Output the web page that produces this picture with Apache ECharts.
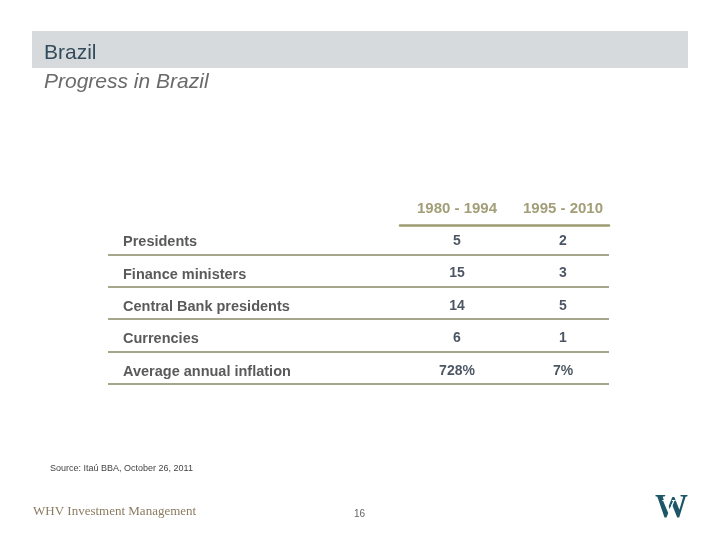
<!DOCTYPE html>
<html>
<head>
<meta charset="utf-8">
<script src="https://cdn.jsdelivr.net/npm/echarts@6/dist/echarts.min.js"></script>
<style>html,body{margin:0;padding:0;background:#fff;}#c{width:720px;height:540px;}</style>
</head>
<body>
<div id="c"></div>
<script>
const rows = ['Presidents', 'Finance ministers', 'Central Bank presidents', 'Currencies', 'Average annual inflation'];
const periods = ['1980 - 1994', '1995 - 2010'];
const values1980 = [5, 15, 14, 6, 728];
const values1995 = [2, 3, 5, 1, 7];
const units = ['', '', '', '', '%'];

const chart = echarts.init(document.getElementById('c'), null, {renderer: 'canvas'});
const LINE = '#a6a68c';
const OLIVE = '#a29e78';
const FONT = 'Liberation Sans, Arial, sans-serif';

function seriesFor(period, vals) {
  return {
    type: 'scatter', xAxisIndex: 1, yAxisIndex: 1, symbolSize: 0, silent: true,
    data: rows.map((r, i) => [period, r, vals[i]]),
    label: {
      show: true, position: 'inside', offset: [0, 3],
      formatter: p => p.value[2] + units[p.dataIndex],
      fontFamily: FONT, fontWeight: 'bold', fontSize: 14, color: '#1e2b3b'
    }
  };
}

chart.setOption({
  backgroundColor: '#ffffff',
  animation: false,
  graphic: [
    {type: 'rect', left: 32, top: 31, shape: {width: 656, height: 37}, style: {fill: '#d6dadc'}, silent: true},
    {type: 'text', left: 655, top: 492, style: {text: 'W', font: 'bold 33px Liberation Serif, serif', fill: '#1d5666'}},
    {type: 'text', left: 662, top: 499, style: {text: 'V', font: 'bold 19px Liberation Serif, serif', fill: '#ffffff'}}
  ],
  title: [
    {text: 'Brazil', left: 39, top: 38, textStyle: {fontFamily: FONT, fontWeight: 'normal', fontSize: 21, color: '#344b5b'}},
    {text: 'Progress in Brazil', left: 39, top: 67, textStyle: {fontFamily: FONT, fontWeight: 'normal', fontStyle: 'italic', fontSize: 21, color: '#6a6a6a'}},
    {text: 'Source: Itaú BBA, October 26, 2011', left: 45, top: 459, textStyle: {fontFamily: FONT, fontWeight: 'normal', fontSize: 9, color: '#444444'}},
    {text: 'WHV Investment Management', left: 28, top: 500, textStyle: {fontFamily: 'Liberation Serif, serif', fontWeight: 'normal', fontSize: 13, color: '#8b7c62'}},
    {text: '16', left: 349, top: 504, textStyle: {fontFamily: FONT, fontWeight: 'normal', fontSize: 10, color: '#666666'}}
  ],
  grid: [
    {left: 108, width: 501, top: 222, height: 162},
    {left: 404, width: 212, top: 222, height: 162},
    {left: 400, width: 209, top: 225, height: 159}
  ],
  xAxis: [
    {gridIndex: 0, type: 'value', show: false},
    {gridIndex: 1, type: 'category', data: periods, position: 'top',
      axisLine: {show: false}, axisTick: {show: false}, splitLine: {show: false},
      axisLabel: {margin: 6, fontFamily: FONT, fontWeight: 'bold', fontSize: 15, color: OLIVE}},
    {gridIndex: 2, type: 'category', data: periods, position: 'top',
      axisLine: {show: true, lineStyle: {color: '#9d9d73', width: 2.5}},
      axisTick: {show: false}, axisLabel: {show: false}, splitLine: {show: false}}
  ],
  yAxis: [
    {gridIndex: 0, type: 'category', data: rows, inverse: true,
      axisLine: {show: false}, axisTick: {show: false},
      axisLabel: {align: 'left', verticalAlign: 'top', lineHeight: 8, margin: -15,
        fontFamily: FONT, fontWeight: 'bold', fontSize: 14.5, color: '#5a5a5a'},
      splitLine: {show: true, interval: (i) => i > 0, lineStyle: {color: LINE, width: 2}}},
    {gridIndex: 1, type: 'category', data: rows, inverse: true, show: false},
    {gridIndex: 2, type: 'category', data: rows, inverse: true, show: false}
  ],
  series: [seriesFor(periods[0], values1980), seriesFor(periods[1], values1995)]
});
</script>
</body>
</html>
